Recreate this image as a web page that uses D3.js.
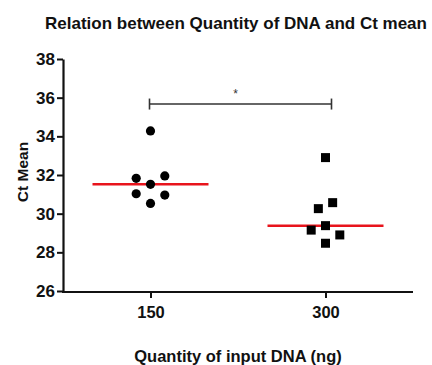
<!DOCTYPE html>
<html>
<head>
<meta charset="utf-8">
<script src="https://cdn.jsdelivr.net/npm/d3@7"></script>
<style>
	body { margin: 0; background: #fff; }
	text { font-family: "Liberation Sans", Arial, sans-serif; }
</style>
</head>
<body>
<div id="container"></div>
<script>
const title = "Relation between Quantity of DNA and Ct mean";
const xTitle = "Quantity of input DNA (ng)";
const yTitle = "Ct Mean";
const groups = ["150", "300"];
const yTicks = [26, 28, 30, 32, 34, 36, 38];

// Ct values
const ct150 = [34.28, 31.83, 31.95, 31.52, 31.03, 30.96, 30.53];
const ct300 = [32.9, 30.57, 30.26, 29.38, 29.15, 28.9, 28.47];
// column slot of each point in the scatter (GraphPad style spreading)
const slot150 = [0, -1, 1, 0, -1, 1, 0];
const slot300 = [0, 0.5, -0.5, 0, -1, 1, 0];

const sigLevel = 35.67;
const sigLabel = "*";

drawChart();

function drawChart() {
	const width = 432;
	const height = 365;
	const margin = { top: 59, right: 19, bottom: 74, left: 63 };

	const svg = d3
		.select("#container")
		.append("svg")
		.attr("width", width)
		.attr("height", height);

	const x = d3
		.scalePoint()
		.domain(groups)
		.range([margin.left, width - margin.right])
		.padding(0.5);

	const y = d3
		.scaleLinear()
		.domain([26, 38])
		.range([height - margin.bottom, margin.top]);

	const xAxis = d3.axisBottom(x).tickSize(6).tickSizeOuter(0).tickPadding(5);
	const yAxis = d3
		.axisLeft(y)
		.tickValues(yTicks)
		.tickSize(6)
		.tickSizeOuter(0)
		.tickPadding(2);

	const gx = svg
		.append("g")
		.attr("transform", `translate(0, ${y(26) + 1})`)
		.call(xAxis);
	gx.select(".domain").attr("d", `M${margin.left - 1},0H${width - margin.right}`);

	const gy = svg
		.append("g")
		.attr("transform", `translate(${margin.left}, 0)`)
		.call(yAxis);

	svg.selectAll(".domain").attr("stroke", "#111").attr("stroke-width", 2.2);
	svg.selectAll(".tick line").attr("stroke", "#111").attr("stroke-width", 2);
	svg
		.selectAll(".tick text")
		.attr("font-size", 17)
		.attr("font-weight", "bold")
		.attr("fill", "#111")
		.style("font-family", '"Liberation Sans", Arial, sans-serif');
	gx.selectAll(".tick text").attr("y", 26).attr("dy", null).attr("font-size", 16.5);

	// titles
	svg
		.append("text")
		.attr("x", 236)
		.attr("y", 29)
		.attr("text-anchor", "middle")
		.attr("font-size", 17)
		.attr("font-weight", "bold")
		.attr("fill", "#111")
		.text(title);

	svg
		.append("text")
		.attr("x", 238)
		.attr("y", 362)
		.attr("text-anchor", "middle")
		.attr("font-size", 16.5)
		.attr("font-weight", "bold")
		.attr("fill", "#111")
		.text(xTitle);

	svg
		.append("text")
		.attr("transform", `translate(28, 172) rotate(-90)`)
		.attr("text-anchor", "middle")
		.attr("font-size", 15.5)
		.attr("font-weight", "bold")
		.attr("fill", "#111")
		.text(yTitle);

	const slotWidth = 14.3;
	const halfLine = 58;

	// medians
	const medians = [d3.median(ct150), d3.median(ct300)];
	svg
		.append("g")
		.selectAll("line")
		.data(groups)
		.enter()
		.append("line")
		.attr("x1", (d) => x(d) - halfLine)
		.attr("x2", (d) => x(d) + halfLine)
		.attr("y1", (d, i) => y(medians[i]))
		.attr("y2", (d, i) => y(medians[i]))
		.attr("stroke", "#e8141c")
		.attr("stroke-width", 2.5);

	// circles for 150 ng
	svg
		.append("g")
		.selectAll("circle")
		.data(ct150)
		.enter()
		.append("circle")
		.attr("cx", (d, i) => x("150") + slot150[i] * slotWidth)
		.attr("cy", (d) => y(d))
		.attr("r", 4.6)
		.attr("fill", "#000");

	// squares for 300 ng
	const side = 9;
	svg
		.append("g")
		.selectAll("rect")
		.data(ct300)
		.enter()
		.append("rect")
		.attr("x", (d, i) => x("300") + slot300[i] * slotWidth - side / 2)
		.attr("y", (d) => y(d) - side / 2)
		.attr("width", side)
		.attr("height", side)
		.attr("fill", "#000");

	// significance bracket
	const x1 = x("150") - 1;
	const x2 = x("300") + 6;
	const sy = y(sigLevel);
	const bracket = svg.append("g").attr("stroke", "#333").attr("stroke-width", 1.6);
	bracket.append("line").attr("x1", x1).attr("x2", x2).attr("y1", sy).attr("y2", sy);
	[x1, x2].forEach((bx) => {
		bracket
			.append("line")
			.attr("x1", bx)
			.attr("x2", bx)
			.attr("y1", sy - 5.5)
			.attr("y2", sy + 5.5);
	});
	svg
		.append("text")
		.attr("x", (x1 + x2) / 2 - 5)
		.attr("y", sy - 6)
		.attr("text-anchor", "middle")
		.attr("font-size", 12)
		.attr("fill", "#333")
		.text(sigLabel);
}
</script>
</body>
</html>
